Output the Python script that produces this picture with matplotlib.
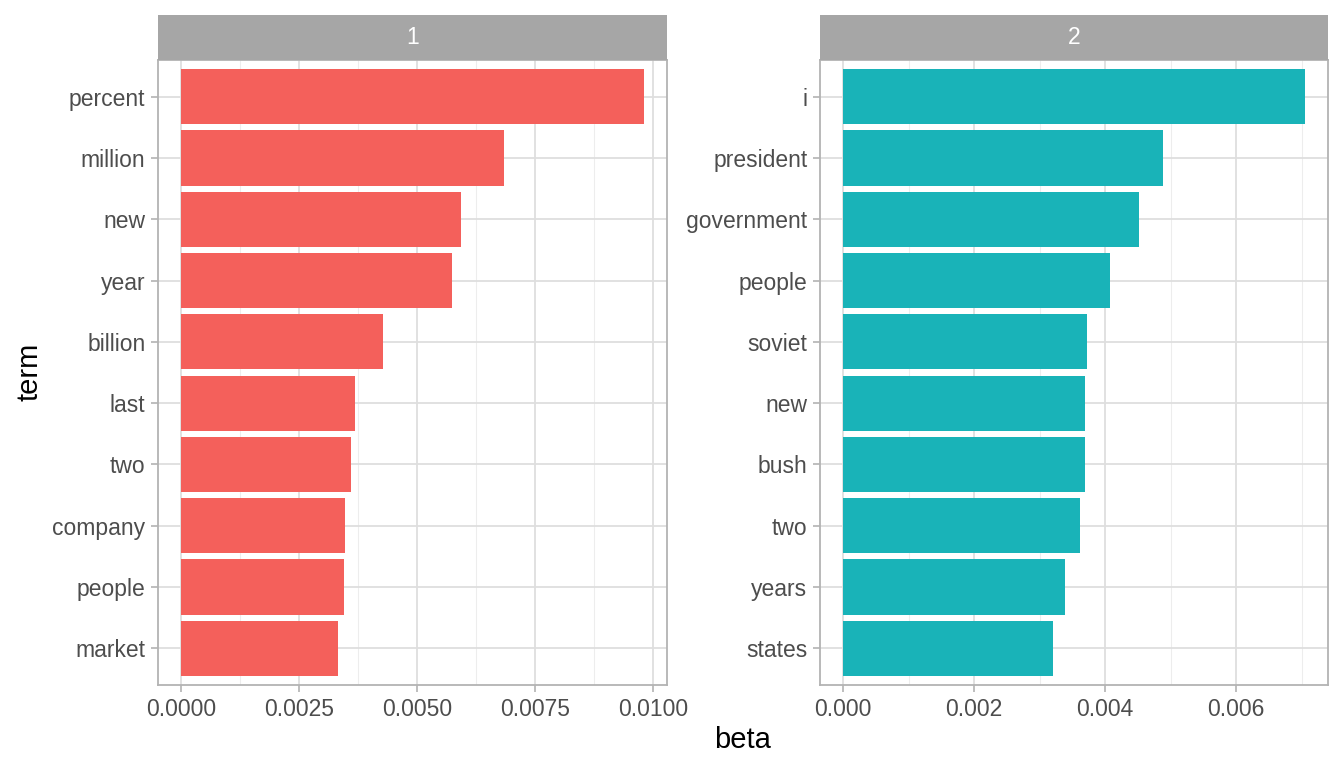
import numpy as np
import matplotlib
matplotlib.use('Agg')
import matplotlib.pyplot as plt
from matplotlib.ticker import MultipleLocator, FixedLocator

plt.rcParams['font.family'] = ['Liberation Sans', 'DejaVu Sans']

# top terms per topic (top to bottom)
terms_1 = ['percent', 'million', 'new', 'year', 'billion', 'last', 'two', 'company', 'people', 'market']
beta_1 = [0.00981, 0.00684, 0.00594, 0.00575, 0.00427, 0.00368, 0.00360, 0.00348, 0.00345, 0.00333]
terms_2 = ['i', 'president', 'government', 'people', 'soviet', 'new', 'bush', 'two', 'years', 'states']
beta_2 = [0.00705, 0.00489, 0.00452, 0.00407, 0.00372, 0.00370, 0.00370, 0.00361, 0.00339, 0.00320]
topics = ['1', '2']
bar_colors = ['#F4605B', '#19B3B8']

fig = plt.figure(figsize=(13.44, 7.68), dpi=100)

panels = [
    (158, 509, terms_1, beta_1, [0, 0.0025, 0.005, 0.0075, 0.01], ['0.0000', '0.0025', '0.0050', '0.0075', '0.0100'], 0.00125),
    (820, 508, terms_2, beta_2, [0, 0.002, 0.004, 0.006], ['0.000', '0.002', '0.004', '0.006'], 0.001),
]
W, H = 1344, 768
for k, (x0, w, terms, beta, ticks, tlabels, minor) in enumerate(panels):
    ax = fig.add_axes([x0 / W, 1 - 685 / H, w / W, 625 / H])
    n = len(terms)
    ypos = np.arange(n)[::-1] + 1
    ax.barh(ypos, beta, height=0.9, color=bar_colors[k], zorder=3)
    mx = max(beta)
    ax.set_xlim(-0.05 * mx, 1.05 * mx)
    ax.set_ylim(0.4, n + 0.6)
    ax.set_yticks(ypos)
    ax.set_yticklabels(terms)
    ax.xaxis.set_major_locator(FixedLocator(ticks))
    ax.set_xticklabels(tlabels)
    ax.xaxis.set_minor_locator(MultipleLocator(minor))
    ax.grid(True, which='major', color='#DEDEDE', linewidth=1.3, zorder=0)
    ax.grid(True, which='minor', axis='x', color='#EDEDED', linewidth=0.8, zorder=0)
    ax.set_axisbelow(True)
    for s in ax.spines.values():
        s.set_color('#B3B3B3')
        s.set_linewidth(1.3)
    ax.tick_params(which='major', length=5, width=1.2, color='#B3B3B3',
                   labelsize=16.5, labelcolor='#4D4D4D', pad=4)
    ax.tick_params(which='minor', length=0)
    # facet strip
    sx = fig.add_axes([x0 / W, 1 - 60 / H, w / W, 45 / H])
    sx.set_facecolor('#A6A6A6')
    sx.set_xticks([])
    sx.set_yticks([])
    for s in sx.spines.values():
        s.set_visible(False)
    sx.text(0.5, 0.5, topics[k], color='white', fontsize=16.5, ha='center', va='center',
            transform=sx.transAxes)

fig.text(743 / W, 1 - 740 / H, 'beta', fontsize=21, ha='center', va='center')
fig.text(30 / W, 1 - 372 / H, 'term', fontsize=21, ha='center', va='center', rotation=90)

fig.savefig('out.png', dpi=100)
